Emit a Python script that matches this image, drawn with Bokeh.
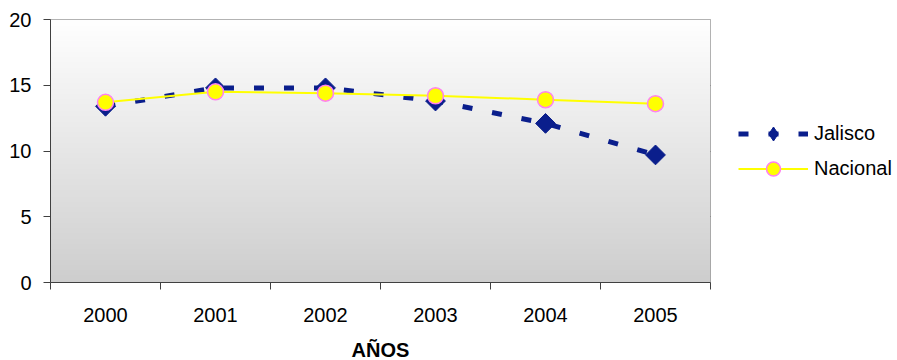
import numpy as np
from math import pi
from bokeh.plotting import figure
from bokeh.layouts import row
from bokeh.models import Range1d, FixedTicker, Legend, LegendItem
from bokeh.embed import file_html
from bokeh.resources import INLINE

years = ["2000", "2001", "2002", "2003", "2004", "2005"]
jalisco = [13.4, 14.8, 14.8, 13.8, 12.1, 9.7]
nacional = [13.7, 14.5, 14.4, 14.2, 13.9, 13.6]
y_ticks = [0, 5, 10, 15, 20]
grid_ticks = [5, 10, 15]
x_title = "AÑOS"
series_names = ["Jalisco", "Nacional"]

FONT = "Liberation Sans"
JCOL = "#0a1e8c"
NCOL = "#ffff00"
NEDGE = "#ff80f0"
n = len(years)
x = [i + 0.5 for i in range(n)]
ymax = y_ticks[-1]

p = figure(frame_width=660, frame_height=263, output_backend="svg",
           toolbar_location=None,
           x_range=Range1d(0, n), y_range=Range1d(0, ymax),
           min_border_left=50, min_border_top=19, min_border_bottom=78,
           min_border_right=2)
p.background_fill_color = "white"
p.border_fill_color = "white"
p.outline_line_color = "#9a9a9a"

# vertical gradient background of the plot area (bottom grey -> top white)
N = 200
t = np.linspace(0, 1, N)
grey_bottom, grey_top = 0xCE, 0xFF
vals = (grey_bottom + (grey_top - grey_bottom) * t).astype(np.uint8)
img = np.empty((N, 1), dtype=np.uint32)
view = img.view(dtype=np.uint8).reshape((N, 1, 4))
view[:, 0, 0] = vals
view[:, 0, 1] = vals
view[:, 0, 2] = vals
view[:, 0, 3] = 255
p.image_rgba(image=[img], x=0, y=0, dw=n, dh=ymax)

# series
p.line(x, jalisco, line_color=JCOL, line_width=5, line_dash="10 20")
p.scatter(x, jalisco, marker="square", angle=pi / 4, size=14,
          fill_color=JCOL, line_color=JCOL)
p.line(x, nacional, line_color=NCOL, line_width=2)
p.scatter(x, nacional, marker="circle", size=16,
          fill_color=NCOL, line_color=NEDGE, line_width=1.5)

# axes
xa = p.xaxis[0]
xa.ticker = FixedTicker(ticks=x, minor_ticks=list(range(n + 1)))
xa.major_label_overrides = {x[i]: years[i] for i in range(n)}
xa.major_tick_out = 0
xa.major_tick_in = 0
xa.minor_tick_out = 7
xa.minor_tick_in = 0
xa.minor_tick_line_color = "#404040"
xa.axis_line_color = "#404040"
xa.major_label_text_font = FONT
xa.major_label_text_font_size = "20px"
xa.major_label_text_color = "black"
xa.major_label_standoff = 18
xa.axis_label = x_title
xa.axis_label_text_font = FONT
xa.axis_label_text_font_size = "20px"
xa.axis_label_text_font_style = "bold"
xa.axis_label_text_color = "black"
xa.axis_label_standoff = 14

ya = p.yaxis[0]
ya.ticker = FixedTicker(ticks=y_ticks)
ya.major_tick_out = 7
ya.major_tick_in = 0
ya.major_tick_line_color = "#404040"
ya.axis_line_color = "#404040"
ya.major_label_text_font = FONT
ya.major_label_text_font_size = "20px"
ya.major_label_text_color = "black"
ya.major_label_standoff = 12

p.xgrid.visible = False
p.ygrid.ticker = FixedTicker(ticks=grid_ticks)
p.ygrid.grid_line_color = "black"
p.ygrid.grid_line_width = 1

# legend in a separate, axis-less figure to the right
lf = figure(width=185, height=360, output_backend="svg", toolbar_location=None,
            x_axis_type=None, y_axis_type=None,
            x_range=Range1d(0, 1), y_range=Range1d(0, 1),
            min_border=0, min_border_left=0, min_border_right=0,
            min_border_top=0, min_border_bottom=0)
lf.outline_line_color = None
lf.background_fill_color = "white"
lf.border_fill_color = "white"
lf.xgrid.visible = False
lf.ygrid.visible = False

# legend-only proxies (NaN -> nothing drawn in the frame)
nan = [float("nan")]
lj = lf.line(nan, nan, line_color=JCOL, line_width=5, line_dash="10 20")
dj = lf.scatter(nan, nan, marker="diamond", fill_color=JCOL, line_color=JCOL)
ln = lf.line(nan, nan, line_color=NCOL, line_width=2)
cn = lf.scatter(nan, nan, marker="circle", fill_color=NCOL, line_color=NEDGE,
                line_width=1.5)

legend = Legend(items=[LegendItem(label=series_names[0], renderers=[lj, dj]),
                       LegendItem(label=series_names[1], renderers=[ln, cn])],
                location=(26, 93), glyph_width=70, glyph_height=35,
                label_height=35, label_standoff=6, spacing=0,
                padding=0, margin=0, border_line_color=None,
                background_fill_color=None,
                label_text_font=FONT, label_text_font_size="20px",
                label_text_color="black")
lf.add_layout(legend, "center")

layout = row(p, lf)
open("out.html", "w").write(file_html(layout, INLINE))
